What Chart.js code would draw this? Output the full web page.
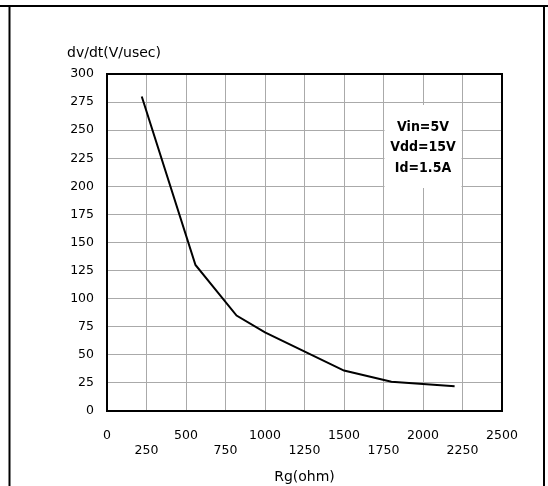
<!DOCTYPE html>
<html>
<head>
<meta charset="utf-8">
<script src="https://cdn.jsdelivr.net/npm/chart.js@4"></script>
<style>
  html, body { margin: 0; padding: 0; background: #fff; }
  #wrap { width: 548px; height: 486px; }
</style>
</head>
<body>
<div id="wrap"><canvas id="dvdtChart" width="548" height="486"></canvas></div>
<script>
// Data
const rgOhm = [220, 560, 820, 1000, 1500, 1800, 2200];
const dvdtValues = [280, 130, 85, 70, 36, 26, 22];

// Axis ticks
const xTickValues = [0, 250, 500, 750, 1000, 1250, 1500, 1750, 2000, 2250, 2500];
const yTickValues = [0, 25, 50, 75, 100, 125, 150, 175, 200, 225, 250, 275, 300];

const conditionLines = ['Vin=5V', 'Vdd=15V', 'Id=1.5A'];

Chart.defaults.font.family = "'DejaVu Sans', Verdana, sans-serif";
Chart.defaults.font.size = 12.5;
Chart.defaults.color = '#000';

// Outer frame, plot box, condition label and y title
const decorPlugin = {
    id: 'decor',
    beforeDraw(chart) {
        const ctx = chart.ctx;
        ctx.save();
        ctx.fillStyle = '#fff';
        ctx.fillRect(0, 0, chart.width, chart.height);
        ctx.strokeStyle = '#000';
        ctx.lineWidth = 2;
        ctx.beginPath();
        ctx.moveTo(0, 6);
        ctx.lineTo(chart.width, 6);
        ctx.moveTo(9.5, 6);
        ctx.lineTo(9.5, chart.height);
        ctx.moveTo(544, 6);
        ctx.lineTo(544, chart.height);
        ctx.stroke();

        ctx.fillStyle = '#000';
        ctx.font = "14px 'DejaVu Sans'";
        ctx.textAlign = 'left';
        ctx.textBaseline = 'middle';
        ctx.fillText('dv/dt(V/usec)', 67, 53);
        ctx.restore();
    },
    beforeDatasetsDraw(chart) {
        const ctx = chart.ctx;
        const xs = chart.scales.x;
        const area = chart.chartArea;
        ctx.save();
        // white box behind the conditions text
        const bx1 = xs.getPixelForValue(1750) + 1;
        const bx2 = xs.getPixelForValue(2250) - 1;
        const by1 = area.top + 31;
        const by2 = area.top + 114;
        ctx.fillStyle = '#fff';
        ctx.fillRect(bx1, by1, bx2 - bx1, by2 - by1);

        ctx.fillStyle = '#000';
        ctx.font = "bold 14px 'DejaVu Sans Condensed', 'DejaVu Sans'";
        ctx.textAlign = 'center';
        ctx.textBaseline = 'middle';
        const cx = xs.getPixelForValue(2000);
        conditionLines.forEach(function(t, i) {
            ctx.fillText(t, cx, area.top + 53 + i * 20.5);
        });

        ctx.strokeStyle = '#000';
        ctx.lineWidth = 2;
        ctx.strokeRect(area.left, area.top, area.right - area.left, area.bottom - area.top);
        ctx.restore();
    }
};

const ctx = document.getElementById('dvdtChart').getContext('2d');
new Chart(ctx, {
    type: 'line',
    data: {
        datasets: [{
            label: 'dv/dt',
            data: rgOhm.map(function(r, i) { return { x: r, y: dvdtValues[i] }; }),
            borderColor: '#000',
            borderWidth: 2,
            pointRadius: 0,
            tension: 0,
            fill: false
        }]
    },
    options: {
        responsive: false,
        animation: false,
        layout: {
            padding: { left: 0, top: 74, right: 46, bottom: 0 }
        },
        plugins: {
            legend: { display: false },
            tooltip: { enabled: false }
        },
        scales: {
            x: {
                type: 'linear',
                min: 0,
                max: 2500,
                afterBuildTicks: function(scale) {
                    scale.ticks = xTickValues.map(function(v) { return { value: v }; });
                },
                afterFit: function(scale) { scale.height = 75; },
                grid: { color: '#aaaaaa', lineWidth: 1, drawTicks: false },
                border: { display: false },
                ticks: {
                    padding: 17,
                    autoSkip: false,
                    maxRotation: 0,
                    callback: function(v, i) {
                        return i % 2 === 0 ? String(v) : ['', String(v)];
                    }
                },
                title: {
                    display: true,
                    text: 'Rg(ohm)',
                    font: { size: 14 },
                    padding: { top: 0, bottom: 0 }
                }
            },
            y: {
                min: 0,
                max: 300,
                afterBuildTicks: function(scale) {
                    scale.ticks = yTickValues.map(function(v) { return { value: v }; });
                },
                afterFit: function(scale) { scale.width = 107; },
                grid: { color: '#aaaaaa', lineWidth: 1, drawTicks: false },
                border: { display: false },
                ticks: { padding: 13, autoSkip: false }
            }
        }
    },
    plugins: [decorPlugin]
});
</script>
</body>
</html>
